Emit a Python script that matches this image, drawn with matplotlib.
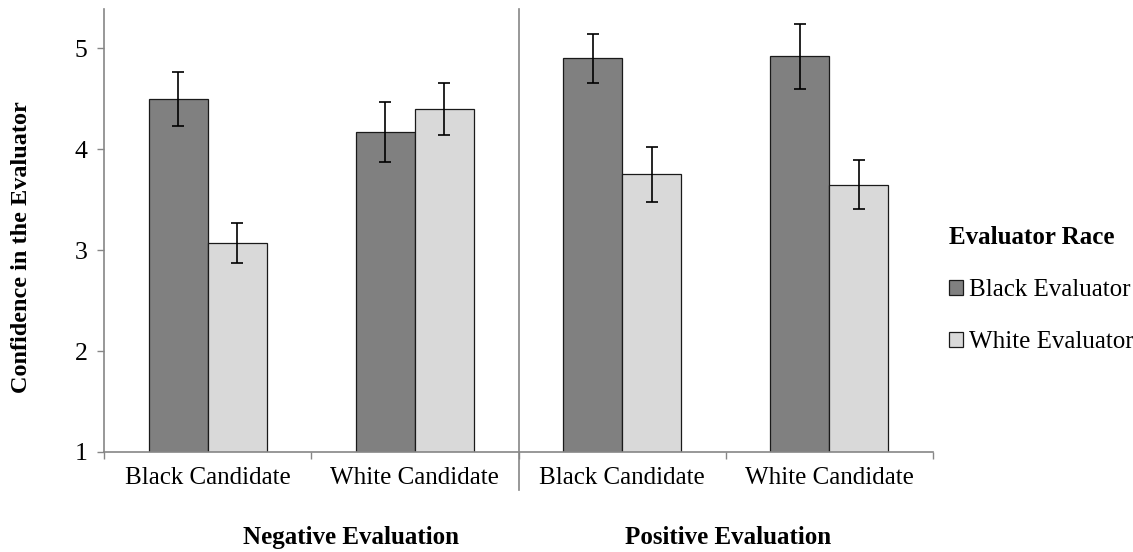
import numpy as np
import matplotlib.pyplot as plt
from matplotlib.patches import Patch

plt.rcParams['font.family'] = ['Liberation Serif', 'DejaVu Serif']

# data
candidates = ['Black Candidate', 'White Candidate', 'Black Candidate', 'White Candidate']
groups = ['Negative Evaluation', 'Positive Evaluation']
black_eval = [4.50, 4.17, 4.90, 4.92]
black_err = [0.27, 0.30, 0.24, 0.32]
white_eval = [3.07, 4.40, 3.75, 3.65]
white_err = [0.20, 0.26, 0.27, 0.24]

dark = '#808080'
light = '#d9d9d9'
axis_grey = '#868686'

fig = plt.figure(figsize=(11.33, 5.52), dpi=100)
ax = fig.add_axes([104 / 1133, 100 / 552, 829 / 1133, 443 / 552])

x = np.arange(len(candidates))
w = 0.285
ax.bar(x - w / 2, black_eval, w, bottom=0, color=dark, edgecolor='#1a1a1a', linewidth=0.9,
       yerr=black_err, capsize=4, error_kw=dict(ecolor='black', elinewidth=1.2, capthick=1.2),
       label='Black Evaluator', zorder=2)
ax.bar(x + w / 2, white_eval, w, bottom=0, color=light, edgecolor='#1a1a1a', linewidth=0.9,
       yerr=white_err, capsize=4, error_kw=dict(ecolor='black', elinewidth=1.2, capthick=1.2),
       label='White Evaluator', zorder=2)

ax.set_xlim(-0.5, 3.5)
ax.set_ylim(1, 5.39)
ax.set_yticks([1, 2, 3, 4, 5])

# category boundaries as major ticks, labels as minor ticks
ax.set_xticks(np.arange(-0.5, 4, 1))
ax.set_xticklabels([])
ax.set_xticks(x, minor=True)
ax.set_xticklabels(candidates, minor=True)
ax.tick_params(axis='x', which='major', length=5, color=axis_grey, width=1)
ax.tick_params(axis='x', which='minor', length=0, pad=11, labelsize=18)
ax.tick_params(axis='y', length=5, color=axis_grey, width=1, pad=7, labelsize=18.5)

for s in ['top', 'right']:
    ax.spines[s].set_visible(False)
for s in ['left', 'bottom']:
    ax.spines[s].set_color(axis_grey)
    ax.spines[s].set_linewidth(1.2)

# divider between evaluation groups
ax.plot([1.5, 1.5], [-0.086, 1.0], color=axis_grey, linewidth=1.2,
        transform=ax.get_xaxis_transform(), clip_on=False)

# group labels
ax.text(0.69, -0.193, groups[0], transform=ax.get_xaxis_transform(),
        ha='center', va='center', fontsize=18, fontweight='bold')
ax.text(2.51, -0.193, groups[1], transform=ax.get_xaxis_transform(),
        ha='center', va='center', fontsize=18, fontweight='bold')

ax.set_ylabel('Confidence in the Evaluator', fontsize=17.5, fontweight='bold')
ax.yaxis.set_label_coords(-0.087, 0.463)

handles = [Patch(facecolor=dark, edgecolor='#1a1a1a', linewidth=0.9, label='Black Evaluator'),
           Patch(facecolor=light, edgecolor='#1a1a1a', linewidth=0.9, label='White Evaluator')]
leg = fig.legend(handles=handles, title='Evaluator Race', loc='center left',
                 bbox_to_anchor=(937 / 1133, 1 - 290 / 552), frameon=False, fontsize=18,
                 title_fontproperties={'weight': 'bold', 'size': 18},
                 handlelength=0.55, handleheight=0.55, handletextpad=0.25,
                 labelspacing=1.2, borderpad=0)
leg._legend_box.align = 'left'

fig.savefig('out.png', dpi=100)
